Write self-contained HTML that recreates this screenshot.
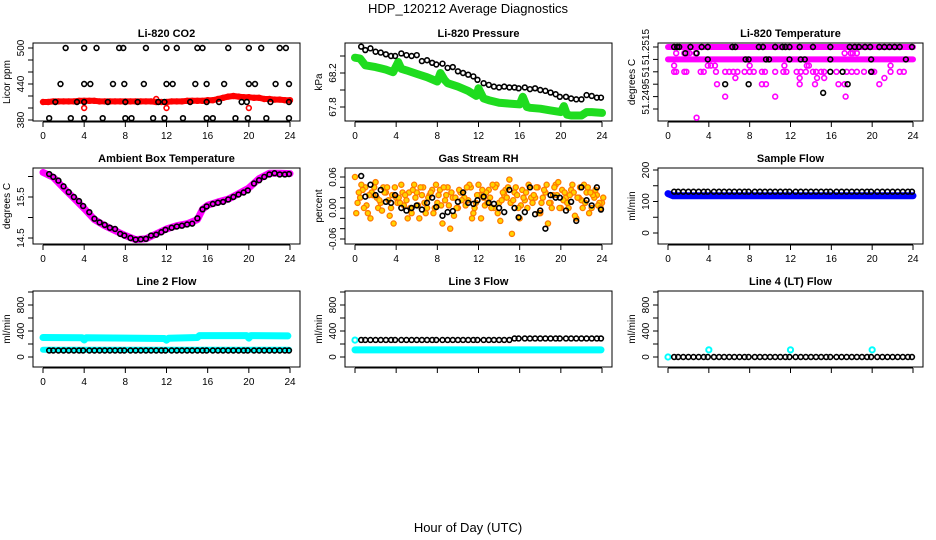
<!DOCTYPE html>
<html><head><meta charset="utf-8"><style>
body{margin:0;background:#fff;}
svg{display:block;font-family:"Liberation Sans",sans-serif;}
</style></head><body>
<svg id="chart" width="936" height="540" viewBox="0 0 936 540" xmlns="http://www.w3.org/2000/svg">
<text x="468" y="13" text-anchor="middle" font-size="13">HDP_120212  Average Diagnostics</text>
<text x="468" y="532" text-anchor="middle" font-size="13">Hour of Day (UTC)</text>
</svg>
<script>
// ---- data ----
const hourTicks=[0,4,8,12,16,20,24];
const blackHours=[0.6,1,1.5,2,2.5,3,3.5,3.9,4.5,5,5.5,6,6.5,7,7.5,7.9,8.5,9,9.5,10,10.5,11,11.5,11.9,12.5,13,13.5,14,14.5,15,15.5,15.9,16.5,17,17.5,18,18.5,19,19.5,19.9,20.5,21,21.5,22,22.5,23,23.5,23.9];
// CO2
const co2Red=[410,410,411,411,411,411,411,412,412,412,412,411,411,411,411,411,411,411,411,411,411,411,410,410,410,411,411,411,412,412,412,412,413,413,415,417,419,420,419,418,418,417,417,415,415,414,414,413,413];
const co2RedOutHours=[4,12,20,11];
const co2RedOutVals=[400,400,400,415];
const co2B500=[2.2,4,5.2,7.4,7.8,10,12,13,15,15.5,18,20,21.2,23,23.6];
const co2B440=[1.7,4,4.6,6.8,7.9,9.8,12,12.6,14.8,15.9,17.6,20,20.6,22.6,23.9];
const co2B410=[1.2,3.3,4,6.3,8,9.2,11.2,11.8,14.3,15.9,17.1,19.3,19.8,22.1,23.9];
const co2B383=[0.6,2.7,4,5.8,8,8.6,10.7,11.8,13.6,15.9,16.5,18.7,19.9,21.7,23.9];
// Pressure
const presGreenHours=[0,0.5,1,2,3,3.7,4.2,4.5,5,6,7,8,8.3,8.7,9,10,11,11.8,12,12.5,13,14,15,16,16.3,16.7,17,18,19,20,20.3,20.6,21,22,22.5,23,24];
const presGreenVals=[68.38,68.37,68.29,68.27,68.24,68.21,68.33,68.25,68.23,68.19,68.15,68.1,68.2,68.12,68.08,68.04,67.99,67.93,68.02,67.9,67.88,67.85,67.84,67.83,67.92,67.8,67.79,67.78,67.76,67.74,67.81,67.71,67.70,67.70,67.74,67.74,67.73];
const presBlack=[68.51,68.47,68.49,68.45,68.44,68.42,68.4,68.4,68.43,68.41,68.4,68.41,68.34,68.35,68.32,68.3,68.31,68.26,68.27,68.22,68.2,68.18,68.16,68.12,68.08,68.06,68.04,68.03,68.04,68.03,68.03,68.02,68.03,68.01,68.02,68.0,67.99,67.97,67.95,67.92,67.92,67.9,67.89,67.89,67.94,67.93,67.91,67.91];
// Li-820 temperature
const ltRowLevels=[51.2515,51.2510];
const ltRowStart=[0,0];
const ltRowEnd=[24,24];
const ltMagLevels=[51.25125,51.25075,51.2505,51.25025,51.25,51.2495,51.24865];
const ltMagHours=[
 [0.8,1.6,1.9,2.1,2.7,17.3,17.9,18.1,18.5],
 [0.6,3.9,4.2,4.6,8,11.4,13.6,13.8,21.8],
 [0.6,0.8,1.6,1.8,3.2,3.5,4.7,5.6,6,6.4,6.8,7.5,8,8.4,9.2,9.5,10.5,11.3,11.6,12.6,13,13.5,14.2,14.5,15,15.3,16.5,17.5,18,18.5,19.2,20,20.2,21.8,22.7,23.1],
 [6.6,12.9,14.6,15.3,21.2],
 [4.8,9.2,9.6,12.9,14.4,16.7,17.3,20.7],
 [5.6,10.5,17.4],
 [2.8]];
const ltBlackLevels=[51.2515,51.2510,51.25125,51.2505,51.25,51.24965];
const ltBlackHours=[
 [0.6,0.9,1.1,2.2,3.3,3.9,6.3,6.6,8.9,9.3,10.5,11.2,11.5,11.9,12.9,14.2,15.9,17.8,18.3,18.7,19.3,19.8,20.7,21.2,21.7,22.2,22.7,23.9],
 [3.9,7.6,7.9,9.6,9.9,11.9,13.0,13.4,15.9,19.9,23.3],
 [1.7,2.8],[15.9,17.1,19.9],[5.6,7.9,17.6],[15.2]];
// Ambient temperature
const ambHours=[0,1,2,3,4,5,6,7,8,9,10,11,12,13,14,15,15.5,16,17,18,19,20,21,22,23,24];
const ambMag=[16.1,15.98,15.72,15.47,15.22,14.95,14.8,14.68,14.56,14.46,14.48,14.6,14.72,14.8,14.85,14.95,15.2,15.3,15.38,15.45,15.58,15.72,15.95,16.08,16.08,16.07];
const ambBlack=[16.06,15.99,15.9,15.76,15.62,15.5,15.4,15.28,15.13,14.97,14.88,14.82,14.75,14.72,14.6,14.56,14.5,14.46,14.47,14.48,14.56,14.58,14.64,14.7,14.75,14.78,14.8,14.83,14.85,14.98,15.2,15.27,15.33,15.36,15.38,15.44,15.5,15.56,15.61,15.66,15.83,15.91,15.99,16.05,16.08,16.05,16.05,16.06];
// Gas stream RH
const rhA=[0.06,0.02,0.04,-0.02,0.05,0.01,0.03,0.0,0.02,0.045,0.015,-0.01,0.03,0.025,0.0,0.035,0.01,-0.03,0.04,0.02,0.0,0.03,0.015,-0.01,0.045,0.02,0.035,0.0,0.01,0.025,0.055,0.03,-0.02,0.015,0.04,0.02,-0.01,0.03,0.01,0.045,0.0,0.02,0.035,-0.02,0.015,0.03,0.0,0.025,0.01];
const rhB=[0.01,0.035,-0.01,0.025,0.0,0.04,0.015,-0.03,0.02,0.005,0.03,0.045,-0.02,0.01,0.025,0.0,0.035,0.015,-0.04,0.02,0.03,0.005,0.04,0.01,-0.02,0.03,0.0,0.045,0.015,0.02,-0.05,0.025,0.035,0.0,0.01,0.04,0.02,-0.03,0.025,0.05,0.015,0.0,0.03,0.02,0.045,-0.01,0.02,0.01];
const rhC=[-0.01,0.045,0.005,0.03,0.02,-0.005,0.04,0.025,0.01,0.03,-0.02,0.035,0.005,0.04,0.02,-0.01,0.025,0.04,0.005,-0.015,0.035,0.02,0.045,0.0,0.025,0.005,0.02,0.04,-0.025,0.035,0.01,0.04,0.005,0.03,0.02,0.04,0.01,0.045,0.0,0.025,0.035,0.01,0.045,0.02,0.0,0.04,0.025,0.005,0.02];
const rhD=[0.03,0.0,0.025,0.04,0.015,0.03,-0.015,0.04,0.01,0.025,0.0,0.02,0.04,-0.01,0.03,0.045,0.005,0.025,0.03,0.0,0.015,0.04,-0.02,0.025,0.035,0.01,0.045,-0.01,0.03,0.04,0.015,0.0,0.02,0.045,0.025,-0.01,0.035,0.01,0.04,0.0,0.03,0.025,-0.015,0.04,0.01,0.03,0.035,0.0];
const rhBlack=[0.062,0.022,0.045,0.025,0.035,0.012,0.01,0.025,0.0,-0.005,0.0,0.005,-0.003,0.01,0.02,0.002,-0.015,-0.008,-0.006,0.012,0.03,0.01,0.008,0.015,0.022,0.01,0.008,0.0,-0.008,0.035,0.0,-0.018,-0.008,0.04,-0.012,-0.005,-0.04,0.025,0.02,0.02,-0.005,0.012,-0.025,0.04,0.015,0.005,0.04,-0.003];
// Sample flow
const sfBlueHours=[0,0.5,24];
const sfBlueVals=[125,118,118];
const sfBlack=[131,131,131,131,131,131,131,131,131,131,131,131,131,131,131,131,131,131,131,131,131,131,131,131,131,131,131,131,131,131,131,131,131,131,131,131,131,131,131,131,131,131,131,131,131,131,131,131];
// Line 2 flow
const l2CyanHours=[0,3.8,4,4.2,11.8,12,12.2,15,15.2,19.8,20,20.2,23.8];
const l2CyanVals=[300,295,262,295,285,258,288,300,330,330,290,330,325];
const l2LowHours=[0,23.9];
const l2LowVals=[112,112];
const l2Black=[100,100,100,100,100,100,100,100,100,100,100,100,100,100,100,100,100,100,100,100,100,100,100,100,100,100,100,100,100,100,100,100,100,100,100,100,100,100,100,100,100,100,100,100,100,100,100,100];
// Line 3 flow
const l3CyanHours=[0,23.9];
const l3CyanVals=[110,110];
const l3CyanFirst=[260];
const l3Black=[262,262,262,262,262,262,262,262,262,262,262,262,262,262,262,262,262,262,262,262,262,262,262,262,262,262,262,262,262,262,285,285,285,285,285,285,285,285,285,285,285,285,285,285,285,285,285,285];
// Line 4 flow
const l4CyanHours=[0,4,12,20];
const l4CyanVals=[0,110,110,110];
const l4Black=[0,0,0,0,0,0,0,0,0,0,0,0,0,0,0,0,0,0,0,0,0,0,0,0,0,0,0,0,0,0,0,0,0,0,0,0,0,0,0,0,0,0,0,0,0,0,0,0];

// ---- drawing ----
const NS='http://www.w3.org/2000/svg';
const svg=document.getElementById('chart');
function mk(parent,tag,attrs,name){
  const el=document.createElementNS(NS,tag);
  for(const k in attrs) el.setAttribute(k,attrs[k]);
  
  
  parent.appendChild(el);
  return el;
}
const cols=[{L:33,R:300,x0:43,x1:290},{L:345,R:612,x0:355,x1:602},{L:658,R:923,x0:668,x1:913}];
const rows=[{T:43,B:121},{T:168,B:244},{T:291,B:367}];
function panel(c,r,title,ylab,ymin,ymax,ypx0,ypx1,ticks,labels,showX,name){
  const C=cols[c],Rw=rows[r];
  const g=mk(svg,'g',{},name);
  const xs=h=>C.x0+(C.x1-C.x0)*h/24;
  const ys=v=>ypx0+(ypx1-ypx0)*(v-ymin)/(ymax-ymin);
  mk(g,'text',{x:(C.L+C.R)/2,y:Rw.T-6,'text-anchor':'middle','font-size':11,'font-weight':'bold'},name+'-title').textContent=title;
  mk(g,'text',{x:0,y:0,'text-anchor':'middle','font-size':10,transform:`translate(${C.L-23},${(Rw.T+Rw.B)/2}) rotate(-90)`},name+'-y-title').textContent=ylab;
  const ax=mk(g,'g',{stroke:'#000','stroke-width':1},name+'-axes');
  ticks.forEach(t=>{const y=ys(t);mk(ax,'line',{x1:C.L-5,x2:C.L,y1:y,y2:y},name+'-y-tick');});
  const ty=[ys(ticks[0]),ys(ticks[ticks.length-1])];
  mk(ax,'line',{x1:C.L,x2:C.L,y1:ty[0],y2:ty[1]},name+'-y-axis-line');
  labels.forEach(l=>{mk(g,'text',{x:0,y:0,'text-anchor':'middle','font-size':10,transform:`translate(${C.L-9},${ys(l[0])}) rotate(-90)`},name+'-y-tick-label').textContent=l[1];});
  hourTicks.forEach(h=>{mk(ax,'line',{x1:xs(h),x2:xs(h),y1:Rw.B+1,y2:Rw.B+6},name+'-x-tick');
    if(showX) mk(g,'text',{x:xs(h),y:Rw.B+18,'text-anchor':'middle','font-size':10},name+'-x-tick-label').textContent=h;});
  mk(ax,'line',{x1:xs(0),x2:xs(24),y1:Rw.B+1,y2:Rw.B+1},name+'-x-axis-line');
  mk(g,'rect',{x:C.L,y:Rw.T,width:C.R-C.L,height:Rw.B-Rw.T,fill:'none',stroke:'#000'},name+'-box');
  const data=mk(g,'g',{},name+'-data');
  return {xs,ys,g:data};
}
function band(p,hs,vs,color,w,name){
  const pts=hs.map((h,i)=>p.xs(h).toFixed(1)+','+p.ys(vs[i]).toFixed(1)).join(' ');
  mk(p.g,'polyline',{points:pts,fill:'none',stroke:color,'stroke-width':w,'stroke-linejoin':'round','stroke-linecap':'round'},name);
}
function pts(p,hs,vs,color,name,fill,r,sw){
  hs.forEach((h,i)=>{mk(p.g,'circle',{cx:p.xs(h),cy:p.ys(vs[i]),r:r||2.4,fill:fill||'none',stroke:color,'stroke-width':sw||1.6},name);});
}
const halfHours=co2Red.map((_,i)=>i*0.5);

// Panel 1: CO2
let p=panel(0,0,'Li-820 CO2','Licor ppm',380,500,120,48,[380,400,420,440,460,480,500],[[380,'380'],[440,'440'],[500,'500']],true,'co2-panel');
band(p,halfHours,co2Red,'#f00',6,'co2-red-series');
pts(p,halfHours,co2Red,'#f00','co2-red-point');
pts(p,co2RedOutHours,co2RedOutVals,'#f00','co2-red-outlier');
pts(p,co2B500,co2B500.map(()=>500),'#000','co2-black-point');
pts(p,co2B440,co2B440.map(()=>440),'#000','co2-black-point');
pts(p,co2B410,co2B410.map(()=>410),'#000','co2-black-point');
pts(p,co2B383,co2B383.map(()=>383),'#000','co2-black-point');

// Panel 2: Pressure
p=panel(1,0,'Li-820 Pressure','kPa',67.8,68.4,107,56,[67.8,68.0,68.2,68.4],[[67.8,'67.8'],[68.2,'68.2']],true,'pressure-panel');
band(p,presGreenHours,presGreenVals,'#1fdc1f',8,'pressure-green-series');
pts(p,blackHours,presBlack,'#000','pressure-black-point');

// Panel 3: Li temp
p=panel(2,0,'Li-820 Temperature','degrees C',51.2485,51.2515,121.4,47,[51.249,51.2495,51.25,51.2505,51.251,51.2515],[[51.2515,'51.2515'],[51.2505,'51'],[51.2495,'51.2495']],true,'li-temp-panel');
ltRowLevels.forEach((lv,i)=>band(p,[ltRowStart[i],ltRowEnd[i]],[lv,lv],'#f0f',6,'li-temp-magenta-row'));
ltMagLevels.forEach((lv,i)=>pts(p,ltMagHours[i],ltMagHours[i].map(()=>lv),'#f0f','li-temp-magenta-point'));
ltBlackLevels.forEach((lv,i)=>pts(p,ltBlackHours[i],ltBlackHours[i].map(()=>lv),'#000','li-temp-black-point'));

// Panel 4: Ambient
p=panel(0,1,'Ambient Box Temperature','degrees C',14.5,16.0,238,176.5,[14.5,15.0,15.5,16.0],[[14.5,'14.5'],[15.5,'15.5']],true,'ambient-panel');
band(p,ambHours,ambMag,'#f0f',7,'ambient-magenta-series');
pts(p,blackHours,ambBlack,'#000','ambient-black-point');

// Panel 5: RH
p=panel(1,1,'Gas Stream RH','percent',-0.06,0.06,239,177,[-0.06,-0.04,-0.02,0,0.02,0.04,0.06],[[-0.06,'-0.06'],[0,'0.00'],[0.06,'0.06']],true,'rh-panel');
pts(p,rhA.map((_,i)=>i*0.5),rhA,'#ff7a00','rh-orange-point','#ffd400',2.6,1.3);
pts(p,rhB.map((_,i)=>i*0.5+0.25),rhB,'#ff7a00','rh-orange-point','#ffd400',2.6,1.3);
pts(p,rhC.map((_,i)=>i*0.5+0.12),rhC,'#ff7a00','rh-orange-point','#ffd400',2.6,1.3);
pts(p,rhD.map((_,i)=>i*0.5+0.37),rhD,'#ff7a00','rh-orange-point','#ffd400',2.6,1.3);
pts(p,blackHours,rhBlack,'#000','rh-black-point');

// Panel 6: Sample flow
p=panel(2,1,'Sample Flow','ml/min',0,200,233,170,[0,50,100,150,200],[[0,'0'],[100,'100'],[200,'200']],true,'sample-flow-panel');
band(p,sfBlueHours,sfBlueVals,'#00f',7,'sample-flow-blue-series');
pts(p,blackHours,sfBlack,'#000','sample-flow-black-point');

// Panel 7: Line 2
p=panel(0,2,'Line 2 Flow','ml/min',0,1000,357,292,[0,200,400,600,800,1000],[[0,'0'],[400,'400'],[800,'800']],true,'line2-panel');
band(p,l2CyanHours,l2CyanVals,'#0ff',7,'line2-cyan-upper');
band(p,l2LowHours,l2LowVals,'#0ff',6,'line2-cyan-lower');
pts(p,blackHours,l2Black,'#000','line2-black-point');

// Panel 8: Line 3
p=panel(1,2,'Line 3 Flow','ml/min',0,1000,357,292,[0,200,400,600,800,1000],[[0,'0'],[400,'400'],[800,'800']],false,'line3-panel');
band(p,l3CyanHours,l3CyanVals,'#0ff',7,'line3-cyan-series');
pts(p,[0],l3CyanFirst,'#0ff','line3-cyan-point',null,2.6,2);
pts(p,blackHours,l3Black,'#000','line3-black-point');

// Panel 9: Line 4
p=panel(2,2,'Line 4 (LT) Flow','ml/min',0,1000,357,292,[0,200,400,600,800,1000],[[0,'0'],[400,'400'],[800,'800']],false,'line4-panel');
pts(p,l4CyanHours,l4CyanVals,'#0ff','line4-cyan-point',null,2.6,2);
pts(p,blackHours,l4Black,'#000','line4-black-point');
</script>
</body></html>
